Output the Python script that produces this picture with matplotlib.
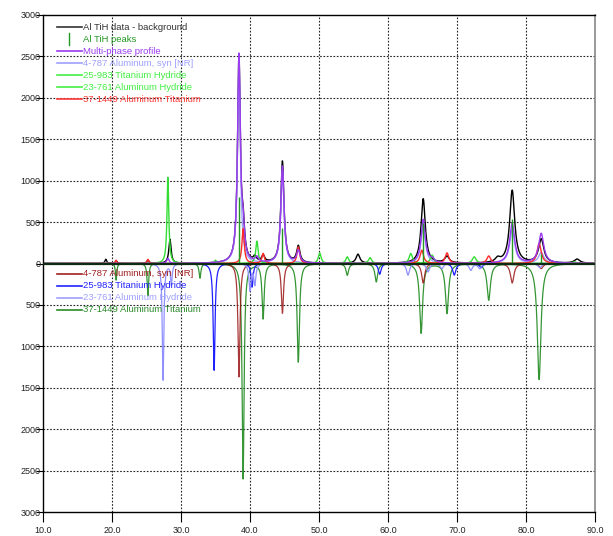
# coding: utf-8

import numpy as np
import matplotlib
matplotlib.use('Agg')
import matplotlib.pyplot as plt
from matplotlib.lines import Line2D
from matplotlib.ticker import FuncFormatter

plt.rcParams['font.family'] = ['Liberation Sans', 'DejaVu Sans']

# peak positions (2theta) and heights
data_pos = [19.1, 20.6, 25.2, 28.4, 38.4, 39.0, 40.7, 41.9, 44.7, 47.0, 55.65, 65.1, 68.55, 75.9, 78.0, 82.2, 87.4]
data_h = [50, 30, 40, 290, 2460, 350, 60, 80, 1230, 200, 110, 780, 80, 50, 880, 290, 50]

profile_pos = [28.1, 38.4, 39.0, 41.0, 44.7, 47.0, 65.1, 66.4, 78.0, 82.2]
profile_h = [60, 2490, 330, 60, 1170, 150, 530, 40, 480, 360]

al_pos = [38.4, 44.7, 65.1, 78.0, 82.2]
al_h = [2400, 1120, 460, 410, 130]

tih_pos = [35.0, 54.1, 57.4, 87.0]
tih_h = [40, 80, 70, 20]

alh_pos = [28.1, 41.0, 50.1, 63.3, 66.4, 72.5]
alh_h = [1040, 270, 127, 120, 100, 80]

alti_pos = [20.6, 25.2, 39.0, 41.9, 47.0, 64.9, 68.55, 74.6, 81.9]
alti_h = [40, 50, 420, 120, 200, 160, 127, 90, 240]

stick_pos = [38.4, 44.7, 65.1, 78.0, 82.2]
stick_h = [800, 430, 490, 540, 120]

# reference patterns drawn downwards
ref_al_pos = [38.4, 44.7, 65.1, 78.0, 82.2]
ref_al_h = [-1370, -600, -235, -235, -60]

ref_tih_pos = [34.8, 40.3, 58.8, 69.6, 73.5]
ref_tih_h = [-1290, -285, -130, -140, -50]

ref_alh_pos = [27.4, 28.6, 40.0, 40.7, 62.9, 65.8, 67.8, 72.0, 73.3, 82.0]
ref_alh_h = [-1407, -250, -320, -250, -140, -100, -60, -80, -60, -50]

ref_alti_pos = [20.6, 25.2, 32.75, 39.0, 41.9, 47.0, 54.1, 58.3, 64.8, 68.55, 74.6, 81.9]
ref_alti_h = [-200, -390, -175, -2600, -660, -1190, -140, -220, -840, -600, -440, -1400]

top_labels = ['Al TiH data - background', 'Al TiH peaks', 'Multi-phase profile',
              '4-787 Aluminum, syn [NR]', '25-983 Titanium Hydride',
              '23-761 Aluminum Hydride', '37-1449 Aluminum Titanium']
bottom_labels = ['4-787 Aluminum, syn [NR]', '25-983 Titanium Hydride',
                 '23-761 Aluminum Hydride', '37-1449 Aluminum Titanium']

x = np.linspace(10, 90, 6000)


def profile(pos, h, k=1.0):
    y = np.zeros_like(x)
    for p, a in zip(pos, h):
        w = (0.06 + 0.0048 * p) * k
        y += a / (1 + ((x - p) / w) ** 2)
    return y


W, H = 613, 536
fig = plt.figure(figsize=(W / 100, H / 100), dpi=100)
ax = fig.add_axes([43 / W, 1 - 512 / H, (595 - 43) / W, (512 - 15) / H])

# grid
for gx in range(20, 90, 10):
    ax.axvline(gx, color='#222222', lw=0.8, ls=(0, (1.5, 1.5)), zorder=0)
for gy in range(-2500, 3000, 500):
    if gy != 0:
        ax.axhline(gy, color='#222222', lw=0.8, ls=(0, (1.5, 1.5)), zorder=0)

# reference patterns
ax.plot(x, profile(ref_alti_pos, ref_alti_h, 0.7), color='#1f8a1f', lw=0.9, alpha=0.9)
ax.plot(x, profile(ref_al_pos, ref_al_h, 0.7), color='#9a1515', lw=0.9, alpha=0.85)
ax.plot(x, profile(ref_tih_pos, ref_tih_h, 0.7), color='#2020ff', lw=0.9)
ax.plot(x, profile(ref_alh_pos, ref_alh_h, 0.7), color='#9090ff', lw=0.9)

# fitted profiles
ax.plot(x, profile(data_pos, data_h), color='k', lw=1.0)
ax.plot(x, profile(al_pos, al_h), color='#a0a0ff', lw=1.0)
ax.plot(x, profile(tih_pos, tih_h, 0.8), color='#33dd33', lw=1.0)
ax.plot(x, profile(alh_pos, alh_h, 0.8), color='#33dd33', lw=1.0)
ax.plot(x, profile(alti_pos, alti_h, 0.8), color='#ff2a2a', lw=1.0)
ax.plot(x, profile(profile_pos, profile_h), color='#9a3cf0', lw=1.0)
ax.vlines(stick_pos, 0, stick_h, color='#229922', lw=1.0)

ax.axhline(0, color='#0d2a12', lw=1.6, zorder=5)

ax.set_xlim(10, 90)
ax.set_ylim(-3000, 3000)
ax.set_xticks(np.arange(10, 91, 10))
ax.set_yticks(np.arange(-3000, 3001, 500))
ax.xaxis.set_major_formatter(FuncFormatter(lambda v, p: '%.1f' % v))
ax.yaxis.set_major_formatter(FuncFormatter(lambda v, p: '%d' % abs(v)))
ax.tick_params(axis='both', labelsize=6.5, direction='out', colors='k', labelcolor='#222222')
ax.tick_params(axis='y', length=5, pad=-3)
ax.tick_params(axis='x', length=7, pad=3)
for s in ['left', 'top', 'bottom']:
    ax.spines[s].set_color('k')
    ax.spines[s].set_linewidth(1.0)
ax.spines['right'].set_color('#888888')
ax.spines['right'].set_linewidth(1.2)

# legends drawn by hand
top_colors = ['#333333', '#229922', '#9a3cf0', '#a0a0ff', '#44ee44', '#44ee44', '#ff3a3a']
top_rows = [27, 39, 51, 63, 75, 87, 99]
for i in range(len(top_labels)):
    yf = 1 - top_rows[i] / H
    if i == 1:
        fig.add_artist(Line2D([69 / W, 69 / W], [1 - 33 / H, 1 - 45 / H], color=top_colors[i], lw=1.0))
    else:
        fig.add_artist(Line2D([57 / W, 82 / W], [yf, yf], color=top_colors[i], lw=1.2))
    fig.text(83 / W, yf, top_labels[i], color=top_colors[i], fontsize=6.8, va='center', ha='left')

bottom_colors = ['#a02020', '#2222ff', '#a0a0ff', '#2a8a2a']
bottom_rows = [274, 286, 298, 310]
for i in range(len(bottom_labels)):
    yf = 1 - bottom_rows[i] / H
    fig.add_artist(Line2D([57 / W, 82 / W], [yf, yf], color=bottom_colors[i], lw=1.2))
    fig.text(83 / W, yf, bottom_labels[i], color=bottom_colors[i], fontsize=6.8, va='center', ha='left')

fig.savefig('out.png', dpi=100)
